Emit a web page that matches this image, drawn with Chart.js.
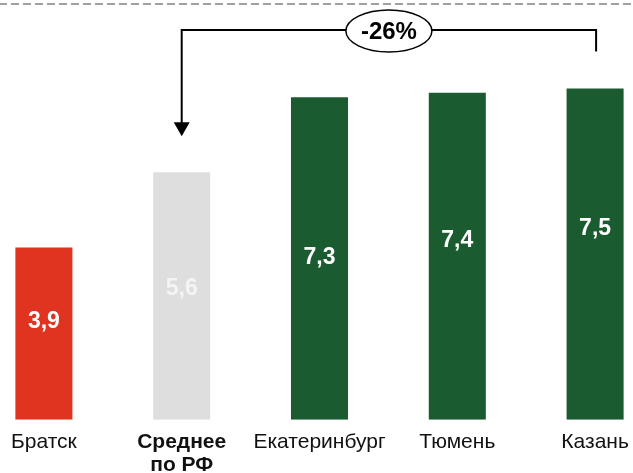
<!DOCTYPE html>
<html>
<head>
<meta charset="utf-8">
<script src="https://cdn.jsdelivr.net/npm/chart.js@4.4.1/dist/chart.umd.min.js"></script>
<style>
  html, body { margin: 0; padding: 0; background: #fff; overflow: hidden; }
  #wrap { position: absolute; left: -25px; top: 0; width: 689px; height: 488px; }
</style>
</head>
<body>
<div id="wrap"><canvas id="chart"></canvas></div>
<script>
// ── Data ─────────────────────────────────────────────
const cities = ['Братск', ['Среднее', 'по РФ'], 'Екатеринбург', 'Тюмень', 'Казань'];
const values = [3.9, 5.6, 7.3, 7.4, 7.5];
const valueLabels = ['3,9', '5,6', '7,3', '7,4', '7,5'];
const diffLabel = '-26%';

const barColors = ['#E03421', '#DEDEDE', '#1A5C2F', '#1A5C2F', '#1A5C2F'];
const labelColors = ['#ffffff', '#F4F4F4', '#ffffff', '#ffffff', '#ffffff'];
// label centre, px below bar top
const labelDrop = [74, 116, 160, 148, 140];

// ── Overlay: dashed top rule, value labels, bracket ──
const overlay = {
  id: 'overlay',
  afterDatasetsDraw(chart) {
    const { ctx, width } = chart;
    const bars = chart.getDatasetMeta(0).data;
    ctx.save();

    // dashed rule along the top
    ctx.strokeStyle = '#A0A0A0';
    ctx.lineWidth = 2;
    ctx.setLineDash([8, 4]);
    ctx.beginPath();
    ctx.moveTo(0, 4);
    ctx.lineTo(width, 4);
    ctx.stroke();
    ctx.setLineDash([]);

    // value labels inside bars
    ctx.font = 'bold 23px Arial, "Liberation Sans", sans-serif';
    ctx.textAlign = 'center';
    ctx.textBaseline = 'middle';
    bars.forEach((b, i) => {
      ctx.fillStyle = labelColors[i];
      ctx.fillText(valueLabels[i], b.x, b.y + labelDrop[i]);
    });

    // bracket from Казань to Среднее
    const from = bars[4], to = bars[1];
    const yTop = 30;
    const xR = from.x + 1, xL = to.x;
    const tipY = to.y - 36;
    ctx.strokeStyle = '#000';
    ctx.lineWidth = 2;
    ctx.beginPath();
    ctx.moveTo(xR, from.y - 37);
    ctx.lineTo(xR, yTop);
    ctx.lineTo(xL, yTop);
    ctx.lineTo(xL, tipY - 12);
    ctx.stroke();
    ctx.fillStyle = '#000';
    ctx.beginPath();
    ctx.moveTo(xL - 8, tipY - 14);
    ctx.lineTo(xL + 8, tipY - 14);
    ctx.lineTo(xL, tipY);
    ctx.closePath();
    ctx.fill();

    // ellipse badge
    const cx = (xL + xR) / 2;
    ctx.beginPath();
    ctx.ellipse(cx, yTop + 1, 43, 21, 0, 0, Math.PI * 2);
    ctx.fillStyle = '#fff';
    ctx.fill();
    ctx.lineWidth = 1.5;
    ctx.stroke();
    ctx.fillStyle = '#000';
    ctx.font = 'bold 24px Arial, "Liberation Sans", sans-serif';
    ctx.fillText(diffLabel, cx, yTop + 2);

    ctx.restore();
  },
};

new Chart(document.getElementById('chart'), {
  type: 'bar',
  data: {
    labels: cities,
    datasets: [{
      data: values,
      backgroundColor: barColors,
      barPercentage: 0.414,
      categoryPercentage: 1,
      borderWidth: 0,
    }],
  },
  options: {
    responsive: true,
    maintainAspectRatio: false,
    animation: false,
    layout: { padding: { top: 0, left: 0, right: 0, bottom: 0 } },
    plugins: { legend: { display: false }, tooltip: { enabled: false } },
    scales: {
      x: {
        grid: { display: false, drawTicks: false },
        border: { display: false },
        ticks: {
          color: '#111',
          padding: 11,
          maxRotation: 0,
          autoSkip: false,
          font: ctx => ({
            family: 'Arial, "Liberation Sans", sans-serif',
            size: 21,
            weight: ctx.index === 1 ? 'bold' : 'normal',
            lineHeight: 1.1,
          }),
        },
      },
      y: {
        display: false,
        min: 0,
        max: 9.5,
      },
    },
  },
  plugins: [overlay],
});
</script>
</body>
</html>
